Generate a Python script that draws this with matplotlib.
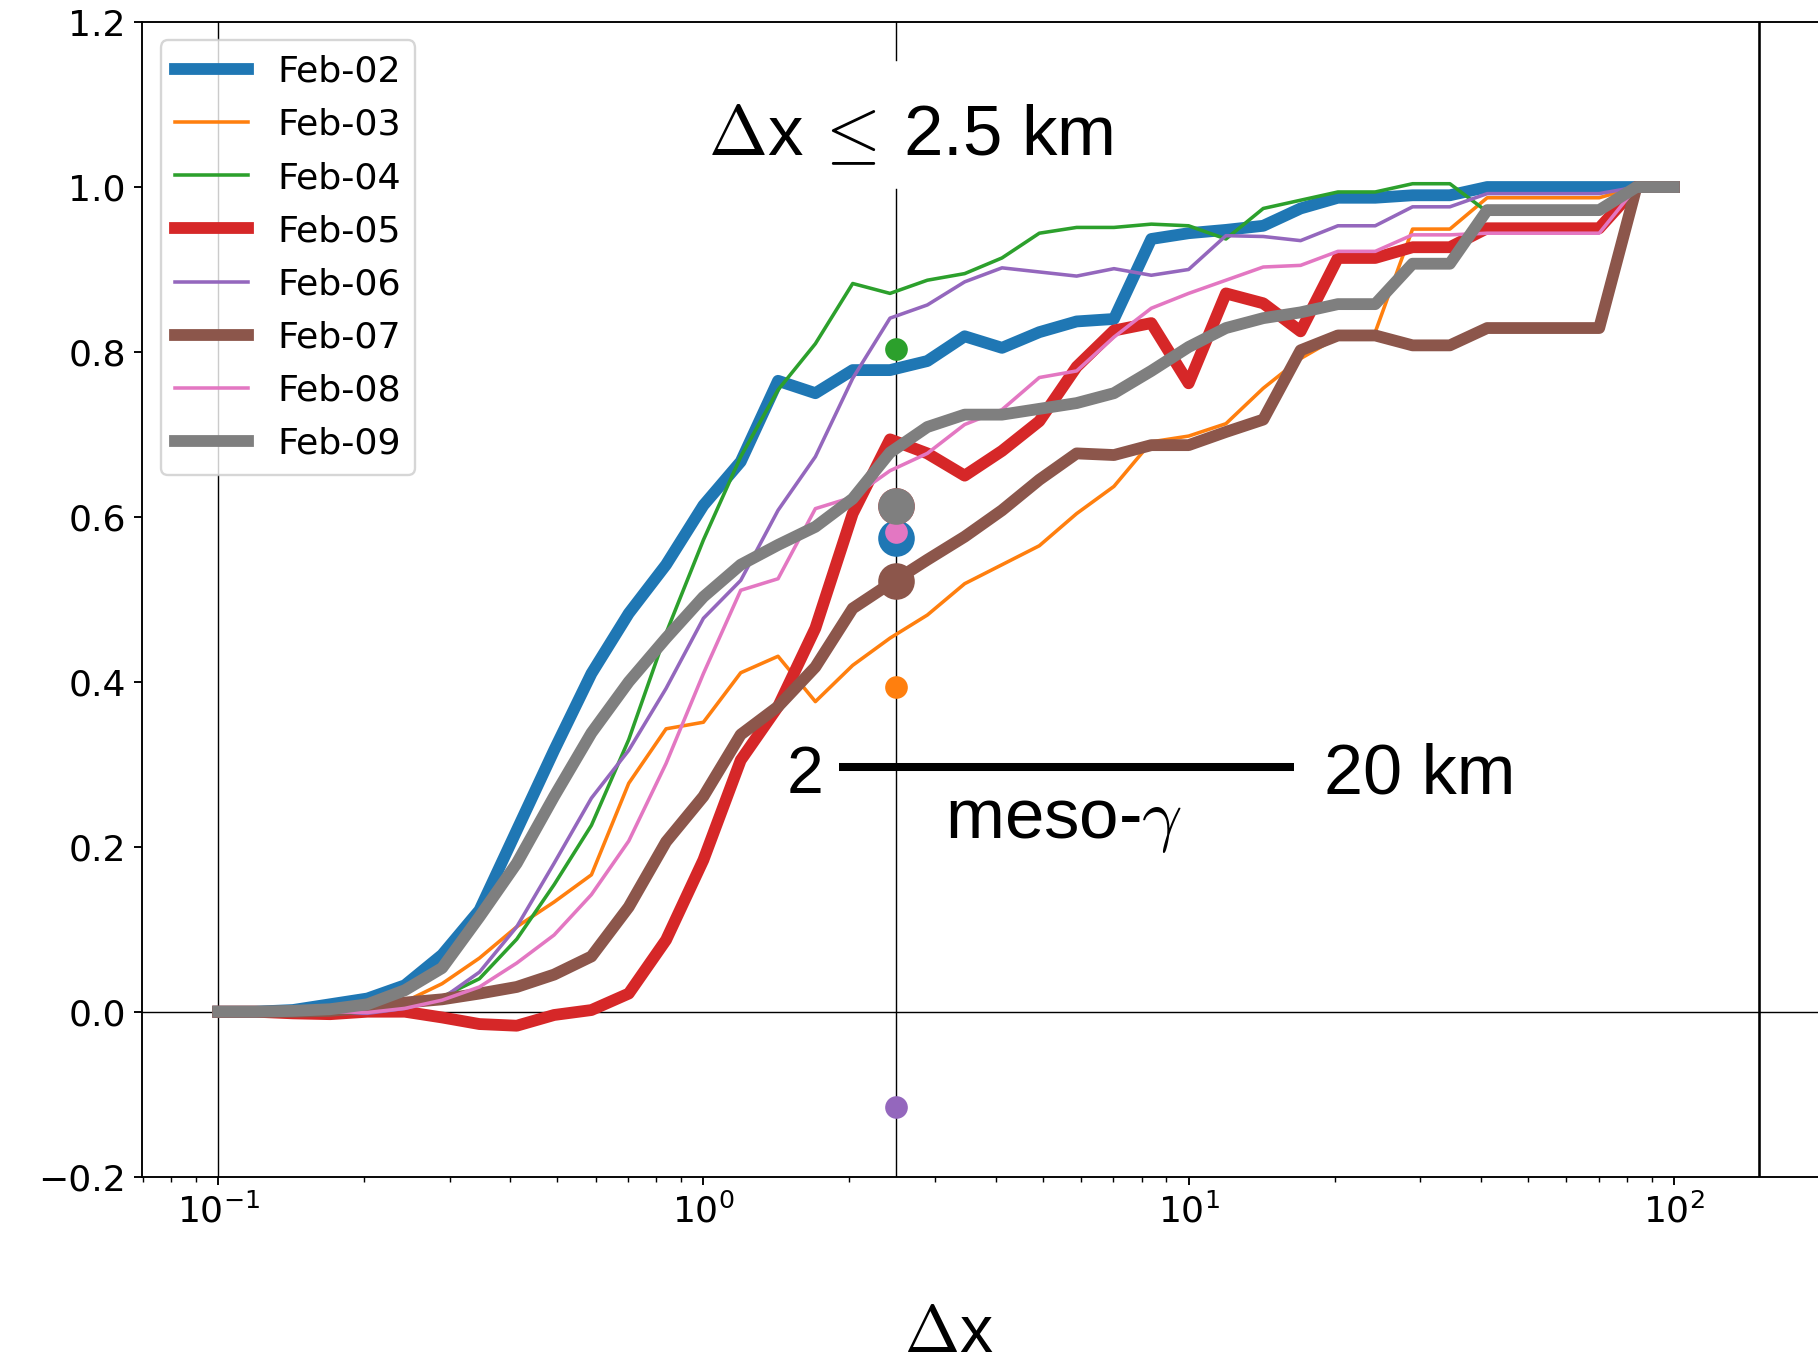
import numpy as np
import matplotlib

matplotlib.use("Agg")
import matplotlib.pyplot as plt

plt.rcParams["mathtext.fontset"] = "cm"

# ---------------------------------------------------------------------------
# Data: fraction vs. separation distance, 13 bins per decade from 0.1 to 100
# ---------------------------------------------------------------------------

dx_km = np.logspace(-1, 2, 40)

days = ["Feb-02", "Feb-03", "Feb-04", "Feb-05",
        "Feb-06", "Feb-07", "Feb-08", "Feb-09"]
colors = ["tab:blue", "tab:orange", "tab:green", "tab:red",
          "tab:purple", "tab:brown", "tab:pink", "tab:gray"]
thick_days = ["Feb-02", "Feb-05", "Feb-07", "Feb-09"]

feb02 = [0.0, 0.0, 0.002, 0.009, 0.016, 0.032, 0.069, 0.123, 0.22, 0.317,
         0.41, 0.483, 0.542, 0.614, 0.667, 0.765, 0.75, 0.778, 0.778, 0.789,
         0.819, 0.805, 0.824, 0.837, 0.840, 0.937, 0.944, 0.948, 0.953, 0.974,
         0.987, 0.987, 0.99, 0.99, 1.0, 1.0, 1.0, 1.0, 1.0, 1.0]
feb03 = [0.0, 0.0, 0.0, 0.001, 0.004, 0.012, 0.034, 0.065, 0.103, 0.133,
         0.166, 0.277, 0.343, 0.351, 0.411, 0.431, 0.376, 0.42, 0.453, 0.481,
         0.519, 0.542, 0.565, 0.604, 0.637, 0.691, 0.698, 0.713, 0.756, 0.792,
         0.818, 0.824, 0.949, 0.949, 0.987, 0.987, 0.987, 0.987, 1.0, 1.0]
feb04 = [0.0, 0.0, 0.0, 0.001, 0.004, 0.01, 0.018, 0.040, 0.088, 0.154,
         0.226, 0.33, 0.459, 0.572, 0.673, 0.754, 0.81, 0.883, 0.871, 0.887,
         0.895, 0.914, 0.944, 0.951, 0.951, 0.955, 0.953, 0.937, 0.974, 0.984,
         0.994, 0.994, 1.004, 1.004, 0.97, 0.97, 0.97, 0.97, 1.0, 1.0]
feb05 = [0.0, 0.0, -0.002, -0.003, 0.0, 0.0, -0.007, -0.015, -0.017, -0.004,
         0.002, 0.022, 0.087, 0.184, 0.305, 0.37, 0.465, 0.604, 0.694, 0.677,
         0.65, 0.68, 0.716, 0.782, 0.826, 0.835, 0.762, 0.871, 0.859, 0.825,
         0.914, 0.914, 0.927, 0.927, 0.95, 0.95, 0.95, 0.95, 1.0, 1.0]
feb06 = [0.0, 0.0, -0.001, -0.002, -0.002, 0.004, 0.016, 0.048, 0.103, 0.18,
         0.259, 0.317, 0.392, 0.477, 0.523, 0.608, 0.673, 0.768, 0.841, 0.857,
         0.885, 0.902, 0.897, 0.892, 0.901, 0.893, 0.90, 0.941, 0.940, 0.935,
         0.953, 0.953, 0.976, 0.976, 0.992, 0.992, 0.992, 0.992, 1.0, 1.0]
feb07 = [0.0, 0.0, 0.0, 0.001, 0.005, 0.011, 0.015, 0.022, 0.030, 0.045,
         0.067, 0.127, 0.206, 0.261, 0.336, 0.37, 0.418, 0.489, 0.519, 0.548,
         0.576, 0.608, 0.645, 0.677, 0.675, 0.687, 0.687, 0.703, 0.718, 0.802,
         0.82, 0.82, 0.808, 0.808, 0.829, 0.829, 0.829, 0.829, 1.0, 1.0]
feb08 = [0.0, 0.0, 0.0, 0.0, -0.001, 0.004, 0.014, 0.030, 0.059, 0.093,
         0.142, 0.207, 0.301, 0.41, 0.511, 0.525, 0.61, 0.624, 0.656, 0.677,
         0.712, 0.73, 0.769, 0.777, 0.818, 0.853, 0.871, 0.887, 0.903, 0.905,
         0.922, 0.922, 0.942, 0.942, 0.944, 0.944, 0.944, 0.944, 1.0, 1.0]
feb09 = [0.0, 0.0, 0.001, 0.003, 0.009, 0.026, 0.053, 0.115, 0.18, 0.261,
         0.338, 0.40, 0.453, 0.503, 0.542, 0.566, 0.588, 0.622, 0.678, 0.709,
         0.724, 0.724, 0.731, 0.738, 0.75, 0.777, 0.806, 0.829, 0.841, 0.848,
         0.858, 0.858, 0.907, 0.907, 0.972, 0.972, 0.972, 0.972, 1.0, 1.0]
series = [feb02, feb03, feb04, feb05, feb06, feb07, feb08, feb09]

# single value per day at the 2.5 km grid spacing
grid_dx = 2.5
grid_vals = [0.575, 0.394, 0.803, 0.613, -0.116, 0.522, 0.582, 0.613]

# meso-gamma band marker
band_lo, band_hi, band_y = 1.9, 16.5, 0.297

# ---------------------------------------------------------------------------
# Plot
# ---------------------------------------------------------------------------

fig = plt.figure(figsize=(1819 / 170, 1372 / 170), dpi=170)
ax = fig.add_axes([0.0783, 0.1424, 0.9311, 0.8415])

ax.axvline(0.1, color="k", lw=0.6)
# grid-spacing line, broken where the label sits
ax.axvline(grid_dx, ymin=0.0, ymax=0.855, color="k", lw=0.6)
ax.axvline(grid_dx, ymin=0.967, ymax=1.0, color="k", lw=0.6)
ax.axvline(150, color="k", lw=1.1)
ax.axhline(0, color="k", lw=0.6)

for day, vals, col in zip(days, series, colors):
    thick = day in thick_days
    ax.plot(dx_km, vals, color=col, lw=5 if thick else 1.5, label=day)
    ax.plot(grid_dx, grid_vals[days.index(day)], "o", color=col,
            ms=15.5 if thick else 9.6, mew=0)

ax.set_xscale("log")
ax.set_xlim(0.0698, 216)
ax.set_ylim(-0.2, 1.2)
ax.tick_params(labelsize=15.3)

ax.text(1.02, 1.039, r"$\Delta$x$\,\leq\,$2.5 km", fontsize=30,
        family="Liberation Sans", va="baseline")

ax.plot([band_lo, band_hi], [band_y, band_y], color="k", lw=3.4,
        solid_capstyle="butt")
ax.text(1.486, 0.265, "2", fontsize=28, family="Liberation Sans")
ax.text(19.0, 0.265, "20 km", fontsize=29.8, family="Liberation Sans")
ax.text(3.15, 0.211, r"meso-$\gamma$", fontsize=30, family="Liberation Sans")

ax.set_xlabel(r"$\Delta$x", fontsize=28, family="Liberation Sans")
ax.xaxis.set_label_coords(0.476, -0.11)

ax.legend(loc="upper left", fontsize=15.4, handlelength=2.0,
          labelspacing=0.526)

fig.savefig("out.png", dpi=170)
